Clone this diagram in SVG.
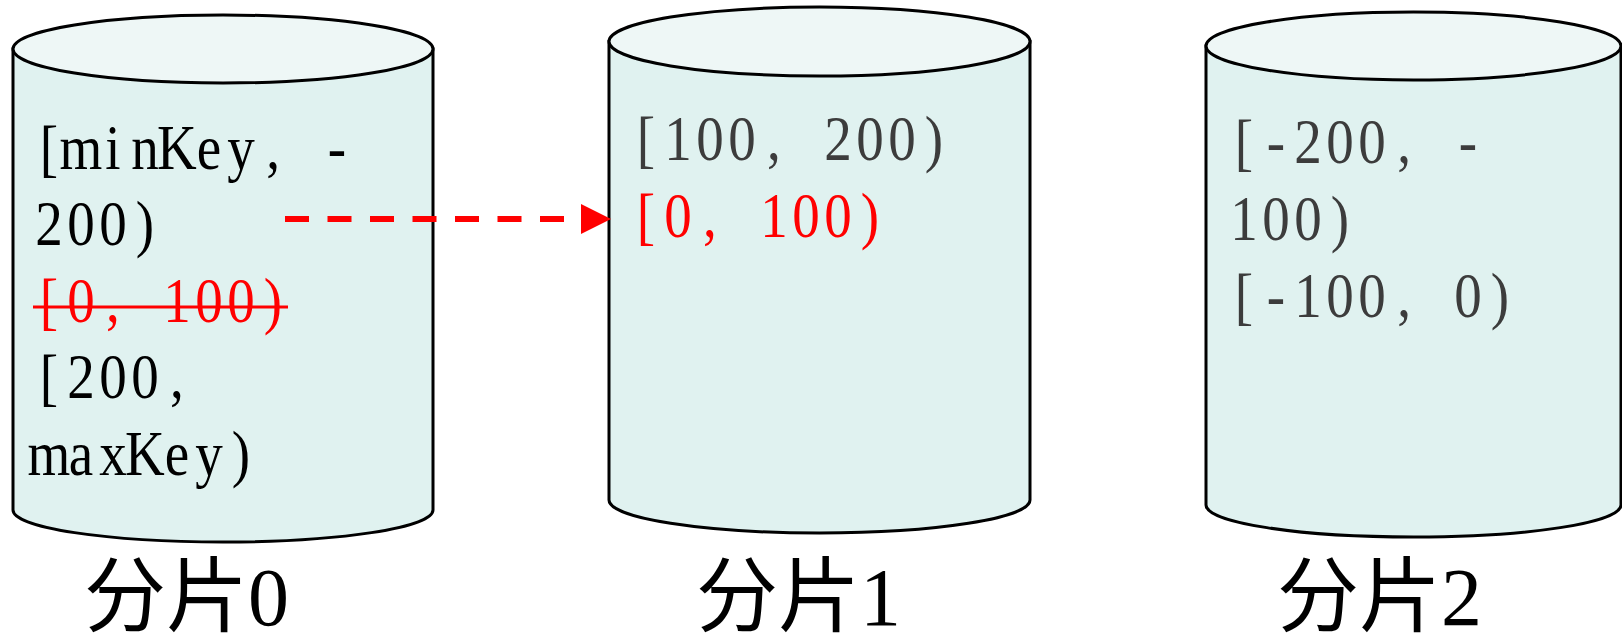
<svg xmlns="http://www.w3.org/2000/svg" width="1622" height="644" viewBox="0 0 1622 644">
<defs>
<style>
.body{fill:#E0F2F0;stroke:#000;stroke-width:3}
.top{fill:#EEF7F6;stroke:#000;stroke-width:3}
.rng{font-family:"Liberation Serif","Noto Sans CJK SC",serif;font-size:64px;text-anchor:middle}
.blk{fill:#000}
.gry{fill:#3c3c3c}
.red{fill:#FF0000}
.lbl{font-family:"Liberation Serif","Noto Sans CJK SC",serif;font-size:82px;fill:#000}
.conn{stroke:#FF0000;stroke-width:6;stroke-dasharray:24 18.5;fill:none}
</style>
<marker id="ah" markerUnits="userSpaceOnUse" markerWidth="30" markerHeight="30" refX="0" refY="15" orient="auto" viewBox="0 0 30 30">
<path d="M0,0 L30,15 L0,30 Z" fill="#FF0000"/>
</marker>
</defs>
<rect width="1622" height="644" fill="#FFFFFF"/>

<g id="shard0">
<path class="body" d="M13,49 V510 A210,32 0 0 0 433,510 V49 Z"/>
<ellipse class="top" cx="223" cy="49" rx="210" ry="34"/>
<g transform="translate(33,0) scale(0.86,1)">
<text class="rng blk" y="169" x="18.6 55.8 93 130.2 167.4 204.7 241.9 279.1 316.3 353.5">[minKey, -</text>
<text class="rng blk" y="245" x="18.6 55.8 93 130.2">200)</text>
<text class="rng red" y="322" x="18.6 55.8 93 130.2 167.4 204.7 241.9 279.1">[0, 100)</text>
<text class="rng blk" y="398" x="18.6 55.8 93 130.2 167.4">[200,</text>
<text class="rng blk" y="475" x="18.6 55.8 93 130.2 167.4 204.7 241.9">maxKey)</text>
</g>
<line x1="33" y1="307" x2="288" y2="307" stroke="#FF0000" stroke-width="3"/>
<text class="lbl" x="84" y="625">分片0</text>
</g>

<g id="shard1">
<path class="body" d="M609,41.5 V500 A210.5,33 0 0 0 1030,500 V41.5 Z"/>
<ellipse class="top" cx="819.5" cy="41.5" rx="210.5" ry="34.5"/>
<g transform="translate(630,0) scale(0.86,1)">
<text class="rng gry" y="160" x="18.6 55.8 93 130.2 167.4 204.7 241.9 279.1 316.3 353.5">[100, 200)</text>
<text class="rng red" y="237" x="18.6 55.8 93 130.2 167.4 204.7 241.9 279.1">[0, 100)</text>
</g>
<text class="lbl" x="696" y="625">分片1</text>
</g>

<g id="shard2">
<path class="body" d="M1206,46 V505 A207.5,32 0 0 0 1621,505 V46 Z"/>
<ellipse class="top" cx="1413.5" cy="46" rx="207.5" ry="34"/>
<g transform="translate(1228,0) scale(0.86,1)">
<text class="rng gry" y="163" x="18.6 55.8 93 130.2 167.4 204.7 241.9 279.1">[-200, -</text>
<text class="rng gry" y="240" x="18.6 55.8 93 130.2">100)</text>
<text class="rng gry" y="317" x="18.6 55.8 93 130.2 167.4 204.7 241.9 279.1 316.3">[-100, 0)</text>
</g>
<text class="lbl" x="1277" y="625">分片2</text>
</g>

<g id="connectors">
<line class="conn" x1="285" y1="219" x2="581" y2="219" marker-end="url(#ah)"/>
</g>
</svg>
